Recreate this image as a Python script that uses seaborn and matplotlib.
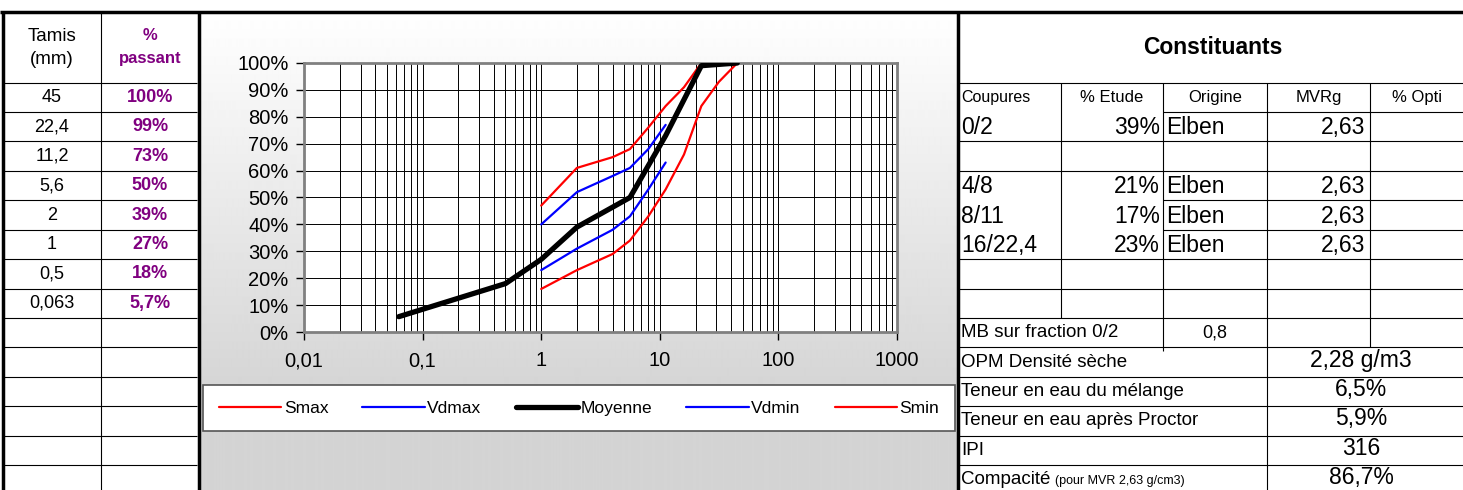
import numpy as np
import pandas as pd
import matplotlib
matplotlib.use("Agg")
import matplotlib.pyplot as plt
import seaborn as sns
from matplotlib.ticker import FuncFormatter, LogLocator, NullFormatter

# granulométrie du mélange (tableau de gauche + courbe "Moyenne")
tamis_mm = [45, 22.4, 11.2, 5.6, 2, 1, 0.5, 0.063]
passant = [100, 99, 73, 50, 39, 27, 18, 5.7]

# fuseaux
fuseau_s_mm = [1, 2, 4, 5.6, 8, 11.2, 16, 22.4, 31.5, 45]
smax = [47, 61, 65, 68, 76, 84, 91, 100, 100, 100]
smin = [16, 23, 29, 34, 43, 53, 66, 84, 93, 100]
fuseau_vd_mm = [1, 2, 4, 5.6, 8, 11.2]
vdmax = [40, 52, 58, 61, 68, 77]
vdmin = [23, 31, 38, 43, 53, 63]

# tableau des constituants
entetes = ["Coupures", "% Etude", "Origine", "MVRg", "% Opti"]
coupures = ["0/2", "", "4/8", "8/11", "16/22,4"]
pct_etude = ["39%", "", "21%", "17%", "23%"]
origine = ["Elben", "", "Elben", "Elben", "Elben"]
mvrg = ["2,63", "", "2,63", "2,63", "2,63"]
mb_label = "MB sur fraction 0/2"
mb_value = "0,8"
prop_labels = ["OPM Densité sèche", "Teneur en eau du mélange",
               "Teneur en eau après Proctor", "IPI", "Compacité"]
prop_values = ["2,28 g/m3", "6,5%", "5,9%", "316", "86,7%"]
compacite_note = "(pour MVR 2,63 g/cm3)"

PURPLE = "#800080"
W, H = 1463, 490
ROW0, ROW_H = 82.7, 29.4

sns.set_style("ticks")
plt.rcParams["font.family"] = ["Liberation Sans", "DejaVu Sans"]
plt.rcParams["text.color"] = "black"
plt.rcParams["xtick.color"] = "black"
plt.rcParams["ytick.color"] = "black"


def fmt_num(v):
    return f"{v:g}".replace(".", ",")


def row_mid(i):
    return ROW0 + ROW_H * (i + 0.5)


def row_top(i):
    return ROW0 + ROW_H * i


fig = plt.figure(figsize=(W / 100, H / 100), dpi=100)

# fond "feuille" : tableaux, cadres, dégradé derrière le graphe
tab = fig.add_axes([0, 0, 1, 1], zorder=0)
grad = np.clip((np.arange(13, 491) - 13) / (400 - 13), 0, 1)[:, None]
grey = 1 - grad * (1 - 0.83)
tab.imshow(np.repeat(grey, 2, axis=1), cmap="gray", vmin=0, vmax=1,
           extent=[200, 957, 490, 13], aspect="auto", interpolation="bilinear")
tab.set_xlim(0, W)
tab.set_ylim(H, 0)
tab.axis("off")


def hline(y, x0, x1, lw=0.8):
    tab.plot([x0, x1], [y, y], color="black", lw=lw, solid_capstyle="butt")


def vline(x, y0, y1, lw=0.8):
    tab.plot([x, x], [y0, y1], color="black", lw=lw, solid_capstyle="butt")


# cadres épais
hline(12, 0, W, lw=2.5)
vline(2.5, 12, H, lw=2.5)
vline(198.5, 12, H, lw=2.5)
vline(957.5, 12, H, lw=2.5)

# tableau de gauche
vline(101, 12, H)
for i in range(14):
    hline(row_top(i), 4, 197)
tab.text(52, 48, "Tamis\n(mm)", ha="center", va="center", fontsize=13.5, linespacing=1.45)
tab.text(150, 47, "%\npassant", ha="center", va="center", fontsize=12,
         fontweight="bold", color=PURPLE, linespacing=1.6)
for i, (t, p) in enumerate(zip(tamis_mm, passant)):
    tab.text(52, row_mid(i), fmt_num(t), ha="center", va="center", fontsize=13)
    tab.text(150, row_mid(i), fmt_num(p) + "%", ha="center", va="center",
             fontsize=13, fontweight="bold", color=PURPLE)

# tableau de droite
tab.text(1213, 47, "Constituants", ha="center", va="center", fontsize=16.5, fontweight="bold")
hline(ROW0, 959, W)
col_x = [959, 1061, 1163, 1267, 1370, W]
vline(col_x[1], ROW0, row_top(8))
vline(col_x[2], ROW0, row_top(9) + 4)
vline(col_x[3], ROW0, H)
vline(col_x[4], ROW0, row_top(9))
for y in [row_top(1), row_top(4), row_top(5)]:
    hline(y, col_x[2], W)
for i in [2, 3, 6, 7, 8, 9, 10, 11, 12, 13]:
    hline(row_top(i), 959, W)

tab.text(961, row_mid(0), entetes[0], ha="left", va="center", fontsize=11.5)
for k in range(1, 5):
    tab.text((col_x[k] + col_x[k + 1]) / 2, row_mid(0), entetes[k],
             ha="center", va="center", fontsize=12)
for i, (c, e, o, m) in enumerate(zip(coupures, pct_etude, origine, mvrg)):
    y = row_mid(i + 1) + 1
    tab.text(961, y, c, ha="left", va="center", fontsize=16.5)
    tab.text(col_x[2] - 3, y, e, ha="right", va="center", fontsize=16.5)
    tab.text(col_x[2] + 3, y, o, ha="left", va="center", fontsize=16.5)
    tab.text(col_x[4] - 5, y, m, ha="right", va="center", fontsize=16.5)

tab.text(961, row_mid(8), mb_label, ha="left", va="center", fontsize=13.5)
tab.text(1215, row_mid(8), mb_value, ha="center", va="center", fontsize=13)
comp_txt = None
for i, (lab, val) in enumerate(zip(prop_labels, prop_values)):
    y = row_mid(9 + i)
    t = tab.text(961, y, lab, ha="left", va="center", fontsize=13.5)
    tab.text((col_x[3] + W) / 2 - 4, y - 2, val, ha="center", va="center", fontsize=16.5)
    comp_txt = t

# graphe granulométrique
ax = fig.add_axes([304 / W, 1 - 332 / H, (897 - 304) / W, (332 - 63) / H], zorder=2)
ax.set_facecolor("white")
d_s = pd.DataFrame({"mm": fuseau_s_mm, "smax": smax, "smin": smin})
d_vd = pd.DataFrame({"mm": fuseau_vd_mm, "vdmax": vdmax, "vdmin": vdmin})
d_moy = pd.DataFrame({"mm": tamis_mm, "pct": passant})

sns.lineplot(data=d_s, x="mm", y="smax", ax=ax, color="#ff0000", lw=1.6, label="Smax")
sns.lineplot(data=d_vd, x="mm", y="vdmax", ax=ax, color="#0000ff", lw=1.6, label="Vdmax")
sns.lineplot(data=d_moy, x="mm", y="pct", ax=ax, color="black", lw=3.8, label="Moyenne",
             zorder=4, solid_capstyle="round")
sns.lineplot(data=d_vd, x="mm", y="vdmin", ax=ax, color="#0000ff", lw=1.6, label="Vdmin")
sns.lineplot(data=d_s, x="mm", y="smin", ax=ax, color="#ff0000", lw=1.6, label="Smin")

ax.set_xscale("log")
ax.set_xlim(0.01, 1000)
ax.set_ylim(0, 100)
ax.xaxis.set_major_locator(LogLocator(base=10, numticks=10))
ax.xaxis.set_minor_locator(LogLocator(base=10, subs=np.arange(2, 10), numticks=100))
ax.xaxis.set_minor_formatter(NullFormatter())
ax.xaxis.set_major_formatter(FuncFormatter(lambda v, p: fmt_num(v)))
ax.set_yticks(range(0, 101, 10))
ax.yaxis.set_major_formatter(FuncFormatter(lambda v, p: f"{int(round(v))}%"))
ax.set_axisbelow(True)
ax.grid(which="both", axis="x", color="black", lw=0.7)
ax.grid(which="major", axis="y", color="black", lw=0.7)
ax.tick_params(axis="both", which="major", direction="out", length=6, width=1,
               color="black", labelcolor="black", labelsize=14.5, left=True, bottom=True)
ax.tick_params(axis="y", pad=5)
ax.tick_params(axis="x", pad=8)
ax.tick_params(axis="x", which="minor", length=0)
ax.set_xlabel("")
ax.set_ylabel("")
for sp in ax.spines.values():
    sp.set_visible(True)
    sp.set_color("#808080")
    sp.set_linewidth(2)

handles, labels = ax.get_legend_handles_labels()
ax.get_legend().remove()
leg = fig.legend(handles, labels, loc="center", ncol=5, mode="expand",
                 bbox_to_anchor=(203 / W, 1 - 433 / H, 752 / W, 50 / H),
                 fontsize=12.5, frameon=True, fancybox=False, edgecolor="#555555",
                 handlelength=3.6, handletextpad=0.15, borderpad=0.9, framealpha=1,
                 borderaxespad=0, columnspacing=1.5, labelcolor="black")
leg.get_frame().set_linewidth(1.2)

# petite note après "Compacité"
fig.canvas.draw()
bb = comp_txt.get_window_extent().transformed(tab.transData.inverted())
tab.text(bb.x1 + 5, row_mid(13) + 1, compacite_note, ha="left", va="center", fontsize=9)

fig.savefig("out.png", dpi=100)
